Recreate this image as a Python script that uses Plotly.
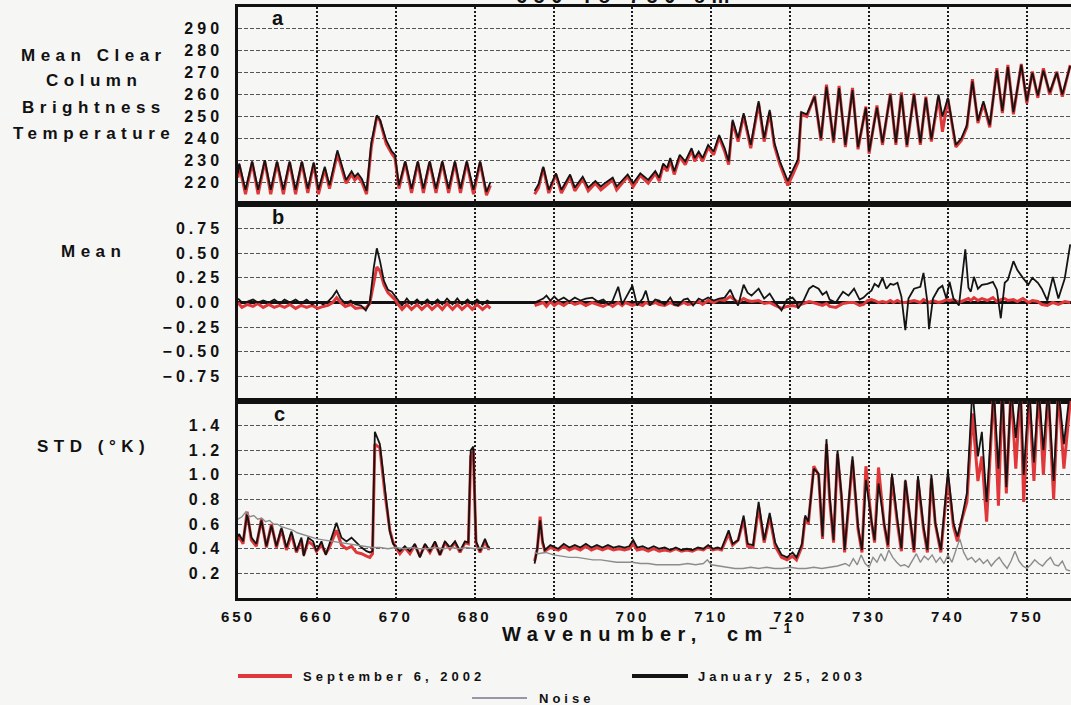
import plotly.graph_objects as go
from plotly.subplots import make_subplots

# ---------------- data ----------------
# Panel a: mean clear-column brightness temperature (K), two segments split by a channel gap
WN_A_L = [650.0, 650.15, 650.95, 651.8, 652.55, 653.4, 654.15, 654.95, 655.75, 656.55,
          657.3, 658.1, 658.85, 659.6, 660.2, 661.0, 661.6, 662.6, 663.7, 664.4,
          664.8, 665.2, 665.7, 666.3, 666.9, 667.6, 668.0, 668.8, 669.5, 669.9,
          670.4, 671.2, 672.0, 672.8, 673.5, 674.3, 675.1, 675.9, 676.7, 677.5,
          678.2, 679.0, 679.85, 680.7, 681.5, 682.0]
TB_JAN_A_L = [224, 228.5, 216.5, 229.5, 216.5, 230, 216.5, 229.5, 216.5, 229.5,
              216.5, 229.5, 217, 229, 216.5, 227, 218.5, 234.5, 221, 225,
              222.5, 224, 221.5, 216, 238, 250.5, 248.5, 239, 234, 232.5,
              218.5, 229.5, 217, 229.5, 217, 229.5, 217, 229.5, 217, 229.5,
              217, 229.5, 216.5, 229.5, 215.5, 220]
TB_SEP_A_L = [222, 228, 214.5, 229, 214.5, 229.5, 214.5, 229, 214.5, 229,
              214.5, 229, 215, 228.5, 214.5, 226, 217, 233, 219.5, 223.5,
              221, 222.5, 220, 214.5, 236, 250, 248, 237.5, 233, 231,
              217, 229, 215, 229, 215, 229, 215, 229, 215, 229,
              215, 229, 214.5, 229, 214, 218.5]

WN_A_R = [687.6, 688.1, 688.7, 689.4, 690.3, 691.0, 692.1, 692.7, 693.7, 694.4,
          695.3, 696.0, 696.5, 697.5, 698.0, 699.4, 700.1, 701.0, 702.0, 702.9,
          703.4, 703.9, 704.4, 704.8, 705.3, 706.0, 706.7, 707.5, 707.9, 708.4,
          708.9, 709.6, 710.3, 711.0, 711.7, 712.2, 712.7, 713.4, 714.1, 715.0,
          716.0, 716.7, 717.4, 718.0, 718.7, 719.7, 720.4, 721.0, 721.4, 722.1,
          723.1, 723.9, 724.6, 725.5, 726.2, 727.0, 727.9, 728.6, 729.6, 730.0,
          731.0, 731.7, 732.7, 733.4, 734.1, 734.8, 735.7, 736.5, 737.2, 737.9,
          738.8, 739.3, 740.0, 741.0, 741.7, 742.4, 743.1, 743.8, 744.5, 745.3,
          746.2, 746.9, 747.6, 748.3, 749.3, 750.0, 750.7, 751.4, 752.1, 752.9,
          753.8, 754.5, 755.5]
TB_JAN_A_R = [216, 219, 227, 216.5, 224, 216.5, 223.5, 217.5, 222.5, 217.5,
              220.5, 218, 219.5, 222, 218, 223.5, 219.5, 224, 221, 225,
              222, 228.5, 226.5, 231, 225, 232.5, 229.5, 235.5, 231, 234,
              231, 237, 234, 241.5, 235.5, 229.5, 248.5, 240, 251.5, 237,
              257, 240, 253, 238, 229.5, 220.5, 226, 230.5, 252, 251,
              259, 240, 263.5, 239, 263, 237, 262, 236, 254, 234,
              254, 238, 260, 238, 260, 237, 260, 238, 258.5, 239.5,
              260, 250, 258.5, 237, 240, 246, 266, 248, 257, 246,
              271, 252.5, 272.5, 252, 273.5, 257, 270, 259.5, 271, 261,
              270, 260, 273]
TB_SEP_A_R = [214.5, 217.5, 226.5, 215, 223.5, 215, 222.5, 216, 221.5, 216,
              219.5, 216.5, 218, 221, 216.5, 222.5, 218, 223, 219.5, 224,
              220.5, 227.5, 225, 230, 223.5, 231.5, 228, 234.5, 229.5, 233,
              229.5, 236, 232.5, 240.5, 234, 228, 247.5, 238.5, 250.5, 235.5,
              256, 238.5, 252, 236.5, 228, 218.5, 224, 229, 251, 250,
              259.5, 239, 264.5, 238, 264, 236, 263, 235, 254.5, 233,
              255, 237, 260.5, 237, 261, 236, 260.5, 237, 259, 238.5,
              259, 243, 258, 236, 239, 245, 267, 247, 256, 245,
              272, 251.5, 273.5, 251, 274, 256, 270.5, 258.5, 272, 260,
              270.5, 259, 273.5]

# Panel b: mean difference (K)
WN_B_L = [650.0, 650.5, 651.2, 651.9, 652.5, 653.2, 653.9, 654.6, 655.3, 655.9,
          656.6, 657.3, 658.0, 658.7, 659.4, 660.1, 660.8, 661.4, 662.0, 662.5,
          663.0, 663.6, 664.3, 664.9, 665.6, 666.2, 666.7, 667.2, 667.6, 668.0,
          668.5, 669.0, 669.5, 669.9, 670.3, 670.8, 671.4, 672.0, 672.7, 673.3,
          674.0, 674.6, 675.3, 675.9, 676.5, 677.2, 677.8, 678.4, 679.1, 679.7,
          680.3, 681.0, 681.6, 682.0]
MEAN_JAN_B_L = [0.04, 0.0, 0.01, 0.03, 0.0, 0.02, 0.0, 0.03, -0.01, 0.03,
                0.0, 0.03, -0.01, 0.03, -0.02, 0.01, -0.02, 0.01, 0.06, 0.12,
                0.04, -0.01, 0.02, -0.02, -0.03, -0.08, 0.0, 0.35, 0.55, 0.42,
                0.22, 0.13, 0.11, 0.07, 0.03, -0.03, 0.04, -0.02, 0.03, -0.02,
                0.03, -0.02, 0.03, -0.02, 0.04, -0.02, 0.04, -0.02, 0.03, -0.02,
                0.03, -0.02, 0.02, 0.0]
MEAN_SEP_B_L = [0.0, -0.05, -0.02, -0.04, -0.01, -0.05, -0.02, -0.05, -0.03, -0.05,
                -0.02, -0.06, -0.03, -0.05, -0.03, -0.06, -0.04, -0.03, 0.0, 0.05,
                0.0, -0.04, -0.02, -0.06, -0.05, -0.06, -0.01, 0.2, 0.36, 0.32,
                0.18, 0.1, 0.06, 0.03, -0.02, -0.07, -0.02, -0.07, -0.02, -0.07,
                -0.02, -0.07, -0.02, -0.07, -0.01, -0.07, -0.02, -0.07, -0.02, -0.07,
                -0.02, -0.07, -0.03, -0.06]

WN_B_R = [687.6, 688.7, 689.1, 689.6, 690.1, 690.6, 691.3, 692.0, 692.7, 693.4,
          694.1, 694.9, 695.6, 696.3, 697.0, 697.5, 698.2, 698.7, 699.1, 700.0,
          700.6, 701.3, 701.7, 702.2, 702.9, 703.4, 704.1, 704.8, 705.3, 705.8,
          706.5, 707.0, 707.7, 708.4, 708.9, 709.6, 710.3, 711.0, 711.7, 712.4,
          712.9, 713.4, 714.1, 714.6, 715.1, 716.0, 716.7, 717.4, 718.1, 718.9,
          719.6, 720.3, 720.8, 721.0, 721.7, 722.4, 722.9, 723.6, 724.1, 724.6,
          725.0, 725.8, 726.2, 726.7, 727.4, 728.1, 728.8, 729.3, 729.8, 730.3,
          730.7, 731.2, 731.7, 732.2, 732.7, 733.1, 733.6, 734.1, 734.6, 735.0,
          735.7, 736.5, 736.9, 737.4, 737.6, 738.1, 738.8, 739.3, 739.8, 740.2,
          740.7, 741.4, 742.2, 742.6, 742.9, 743.3, 743.8, 744.3, 745.0, 745.7,
          746.2, 746.7, 747.2, 747.6, 748.3, 748.8, 749.5, 750.2, 750.7, 751.4,
          751.9, 752.6, 753.3, 754.0, 754.8, 755.5]
MEAN_JAN_B_R = [0.0, 0.04, 0.07, 0.02, 0.06, 0.02, 0.05, 0.01, 0.05, 0.02,
                0.04, 0.05, 0.01, 0.03, -0.02, 0.02, 0.16, -0.02, 0.04, 0.17,
                -0.03, 0.04, 0.12, -0.03, 0.03, 0.02, -0.02, 0.05, -0.02, -0.03,
                0.03, 0.04, -0.03, 0.04, 0.02, 0.05, 0.02, 0.04, 0.05, 0.13,
                0.04, -0.03, 0.18, 0.1, 0.07, 0.14, 0.04, 0.09, 0.0, -0.08,
                0.03, 0.05, 0.0, -0.06, 0.02, 0.14, 0.17, 0.14, 0.08, 0.11,
                0.03, 0.0, 0.05, 0.11, 0.07, 0.14, 0.03, 0.05, 0.09, 0.12,
                0.19, 0.16, 0.25, 0.14, 0.19, 0.18, 0.2, 0.06, -0.28, 0.04,
                0.14, 0.16, 0.3, 0.0, -0.27, 0.04, 0.14, 0.17, 0.04, 0.21,
                0.04, -0.03, 0.54, 0.15, 0.11, 0.26, 0.14, 0.18, 0.19, 0.21,
                0.13, -0.16, 0.2, 0.23, 0.42, 0.33, 0.25, 0.18, 0.25, 0.2,
                0.14, 0.02, 0.26, 0.04, 0.24, 0.59]
MEAN_SEP_B_R = [-0.03, 0.0, -0.04, 0.01, -0.03, 0.0, -0.03, 0.01, -0.02, 0.0,
                -0.03, 0.0, -0.02, -0.04, -0.01, -0.04, 0.0, -0.03, 0.0, -0.03,
                -0.01, -0.03, 0.0, -0.02, 0.0, -0.02, -0.03, 0.0, -0.02, -0.03,
                0.0, -0.02, -0.01, 0.01, -0.02, 0.02, 0.0, 0.03, 0.02, 0.06,
                0.03, 0.0, 0.04, 0.02, 0.01, 0.02, -0.01, 0.0, -0.03, -0.06,
                -0.04, -0.03, -0.04, -0.03, -0.01, 0.01, 0.0, -0.02, -0.03, -0.01,
                -0.04, -0.05, -0.03, -0.01, 0.0, 0.0, -0.03, -0.02, 0.02, 0.03,
                0.02, 0.0, 0.01, 0.0, 0.02, 0.0, 0.02, 0.0, 0.0, 0.01,
                0.02, 0.0, 0.03, 0.01, 0.0, 0.02, 0.0, 0.01, 0.03, 0.02,
                0.03, 0.0, 0.03, 0.04, 0.02, 0.05, 0.02, 0.04, 0.02, 0.05,
                0.01, 0.03, 0.04, 0.02, 0.03, 0.01, 0.04, 0.0, 0.02, 0.01,
                -0.02, -0.03, 0.0, -0.02, 0.01, 0.0]

# Panel c: standard deviation (K)
WN_C_L = [650.0, 650.13, 650.64, 651.15, 651.7, 652.33, 652.97, 653.6, 654.24, 654.87,
          655.51, 656.14, 656.77, 657.41, 658.04, 658.34, 658.89, 659.52, 659.95, 660.58,
          661.13, 661.64, 662.48, 663.12, 663.75, 664.39, 665.02, 665.66, 666.29, 666.71,
          667.05, 667.35, 667.98, 668.62, 669.25, 669.67, 670.1, 670.52, 671.15, 671.79,
          672.42, 673.06, 673.7, 674.33, 674.97, 675.6, 676.24, 676.87, 677.51, 678.14,
          678.78, 679.2, 679.5, 679.83, 680.17, 680.68, 681.31, 681.74, 681.95]
STD_JAN_C_L = [0.5, 0.52, 0.46, 0.68, 0.49, 0.44, 0.63, 0.42, 0.59, 0.42,
               0.57, 0.41, 0.54, 0.38, 0.49, 0.34, 0.49, 0.46, 0.38, 0.46,
               0.35, 0.45, 0.61, 0.49, 0.46, 0.49, 0.45, 0.41, 0.38, 0.37,
               0.38, 1.35, 1.25, 0.87, 0.54, 0.44, 0.41, 0.38, 0.42, 0.38,
               0.44, 0.33, 0.44, 0.38, 0.46, 0.35, 0.46, 0.41, 0.46, 0.38,
               0.46, 0.45, 1.2, 1.23, 0.46, 0.38, 0.48, 0.41, 0.41]
STD_SEP_C_L = [0.47, 0.5, 0.44, 0.7, 0.47, 0.42, 0.64, 0.41, 0.6, 0.41,
               0.56, 0.39, 0.52, 0.37, 0.47, 0.35, 0.46, 0.43, 0.38, 0.43,
               0.36, 0.42, 0.55, 0.43, 0.4, 0.42, 0.37, 0.36, 0.34, 0.33,
               0.36, 1.25, 1.22, 0.85, 0.55, 0.45, 0.4, 0.36, 0.41, 0.36,
               0.43, 0.34, 0.43, 0.37, 0.45, 0.35, 0.45, 0.4, 0.45, 0.37,
               0.45, 0.44, 1.15, 1.2, 0.45, 0.37, 0.46, 0.4, 0.4]

WN_C_R = [687.6, 687.95, 688.3, 688.6, 688.9, 689.6, 690.6, 691.3, 692.0, 692.7,
          693.4, 694.1, 694.8, 695.5, 696.2, 696.9, 697.6, 698.3, 699.0, 699.6,
          700.1, 700.6, 701.3, 702.0, 702.7, 703.4, 704.1, 704.8, 705.5, 706.2,
          706.9, 707.6, 708.3, 709.0, 709.6, 710.2, 710.8, 711.3, 712.2, 712.7,
          713.4, 714.1, 714.6, 715.3, 716.0, 716.7, 717.4, 718.1, 718.9, 719.6,
          720.3, 720.8, 721.5, 721.9, 722.3, 723.0, 723.6, 724.1, 724.6, 725.0,
          725.5, 726.0, 726.5, 726.9, 727.9, 728.6, 729.1, 729.6, 730.3, 730.7,
          731.2, 731.9, 732.4, 732.9, 733.6, 734.1, 734.6, 735.3, 735.7, 736.2,
          736.9, 737.4, 737.9, 738.4, 739.1, 740.0, 740.7, 741.2, 741.7, 742.4,
          743.1, 743.8, 744.3, 744.9, 745.8, 746.4, 746.9, 747.4, 748.0, 748.6,
          749.2, 749.6, 750.3, 750.9, 751.5, 752.1, 752.7, 753.4, 754.0, 754.7,
          755.5]
STD_JAN_C_R = [0.28, 0.41, 0.63, 0.47, 0.39, 0.43, 0.40, 0.44, 0.41, 0.43,
               0.41, 0.44, 0.41, 0.43, 0.41, 0.43, 0.41, 0.42, 0.41, 0.42,
               0.47, 0.41, 0.42, 0.40, 0.42, 0.40, 0.41, 0.39, 0.41, 0.39,
               0.40, 0.39, 0.41, 0.40, 0.43, 0.40, 0.41, 0.40, 0.55, 0.44,
               0.47, 0.67, 0.44, 0.43, 0.78, 0.47, 0.69, 0.45, 0.35, 0.33,
               0.37, 0.33, 0.44, 0.67, 0.62, 1.05, 1.01, 0.50, 1.29, 0.83,
               0.47, 1.20, 0.84, 0.39, 1.15, 0.58, 0.39, 0.96, 0.63, 0.47,
               0.93, 0.61, 0.43, 1.01, 0.63, 0.40, 0.96, 0.58, 0.39, 0.99,
               0.58, 0.39, 1.00, 0.61, 0.39, 1.03, 0.61, 0.50, 0.63, 0.85,
               1.70, 1.15, 1.35, 0.78, 1.70, 1.05, 1.70, 0.90, 1.70, 1.30,
               1.70, 1.00, 1.70, 1.10, 1.70, 1.20, 1.70, 0.95, 1.70, 1.25,
               1.70]
STD_SEP_C_R = [0.30, 0.40, 0.66, 0.45, 0.38, 0.41, 0.39, 0.42, 0.39, 0.41,
               0.39, 0.42, 0.39, 0.41, 0.39, 0.41, 0.39, 0.40, 0.39, 0.40,
               0.44, 0.39, 0.40, 0.38, 0.40, 0.38, 0.39, 0.38, 0.40, 0.38,
               0.39, 0.38, 0.40, 0.39, 0.42, 0.39, 0.40, 0.39, 0.52, 0.43,
               0.47, 0.64, 0.42, 0.41, 0.74, 0.45, 0.66, 0.42, 0.33, 0.31,
               0.34, 0.31, 0.42, 0.65, 0.60, 1.07, 1.00, 0.48, 1.25, 0.80,
               0.45, 1.17, 0.82, 0.37, 1.12, 0.56, 0.37, 1.07, 0.62, 0.45,
               1.06, 0.60, 0.41, 0.98, 0.60, 0.38, 0.95, 0.57, 0.37, 0.96,
               0.56, 0.37, 0.97, 0.60, 0.37, 0.98, 0.58, 0.46, 0.62, 0.78,
               1.50, 0.95, 1.15, 0.62, 1.70, 0.75, 1.70, 0.85, 1.70, 1.05,
               1.70, 0.78, 1.65, 0.95, 1.70, 1.00, 1.70, 0.80, 1.70, 1.05,
               1.60]

NOISE_WN_L = [650.0, 650.5, 651.0, 651.5, 652.0, 652.5, 653.0, 653.5, 654.0, 654.5,
              655.0, 655.5, 656.0, 656.5, 657.0, 657.5, 658.0, 658.5, 659.0, 659.5,
              660.0, 661.0, 662.0, 663.0, 664.0, 665.0, 666.0, 667.0, 668.0, 669.0,
              670.0, 671.0, 672.0, 673.0, 674.0, 675.0, 676.0, 677.0, 678.0, 679.0,
              680.0, 681.0, 681.9]
NOISE_L = [0.64, 0.66, 0.7, 0.66, 0.67, 0.64, 0.65, 0.62, 0.63, 0.6,
           0.6, 0.58, 0.57, 0.56, 0.55, 0.53, 0.52, 0.51, 0.5, 0.49,
           0.48, 0.47, 0.46, 0.45, 0.44, 0.43, 0.42, 0.41, 0.41, 0.4,
           0.41, 0.4, 0.41, 0.4, 0.4, 0.41, 0.4, 0.41, 0.4, 0.41,
           0.4, 0.41, 0.4]
NOISE_WN_R = [687.6, 688.0, 689.0, 690.0, 691.0, 692.0, 693.0, 694.0, 695.0, 696.0,
              697.0, 698.0, 699.0, 700.0, 701.0, 702.0, 703.0, 704.0, 705.0, 706.0,
              707.0, 708.0, 709.0, 709.5, 710.0, 711.0, 712.0, 713.0, 714.0, 715.0,
              716.0, 717.0, 718.0, 719.0, 720.0, 721.0, 722.0, 723.0, 724.0, 725.0,
              726.0, 727.0, 727.5, 728.0, 728.5, 729.0, 729.5, 730.0, 730.5, 731.0,
              731.5, 732.0, 732.5, 733.0, 733.5, 734.0, 734.5, 735.0, 735.5, 736.0,
              736.5, 737.0, 737.5, 738.0, 738.5, 739.0, 739.5, 740.0, 740.5, 741.0,
              741.5, 742.0, 742.5, 743.0, 743.5, 744.0, 744.5, 745.0, 745.5, 746.0,
              746.5, 747.0, 747.5, 748.0, 748.5, 749.0, 749.5, 750.0, 750.5, 751.0,
              751.5, 752.0, 752.5, 753.0, 753.5, 754.0, 754.5, 755.0, 755.5]
NOISE_R = [0.37, 0.36, 0.37, 0.35, 0.34, 0.33, 0.33, 0.32, 0.31, 0.31,
           0.30, 0.29, 0.29, 0.29, 0.28, 0.28, 0.27, 0.27, 0.27, 0.27,
           0.28, 0.27, 0.28, 0.31, 0.27, 0.26, 0.25, 0.24, 0.24, 0.25,
           0.24, 0.25, 0.24, 0.24, 0.25, 0.24, 0.24, 0.25, 0.24, 0.25,
           0.26, 0.28, 0.26, 0.32, 0.27, 0.35, 0.28, 0.25, 0.33, 0.29,
           0.36, 0.30, 0.39, 0.33, 0.29, 0.26, 0.27, 0.25, 0.30, 0.36,
           0.29, 0.34, 0.31, 0.35, 0.29, 0.33, 0.28, 0.35, 0.29, 0.38,
           0.48, 0.37, 0.31, 0.33, 0.29, 0.32, 0.28, 0.31, 0.26, 0.30,
           0.33, 0.28, 0.24, 0.30, 0.38, 0.30, 0.26, 0.24, 0.27, 0.31,
           0.28, 0.26, 0.30, 0.33, 0.27, 0.26, 0.30, 0.23, 0.22]

TICKS_A = [220, 230, 240, 250, 260, 270, 280, 290]
TICKS_B = [-0.75, -0.5, -0.25, 0.0, 0.25, 0.5, 0.75]
TICKS_C = [0.2, 0.4, 0.6, 0.8, 1.0, 1.2, 1.4]
TICKS_X = [650, 660, 670, 680, 690, 700, 710, 720, 730, 740, 750]

for xs, ys in [(WN_A_L, TB_JAN_A_L), (WN_A_L, TB_SEP_A_L), (WN_A_R, TB_JAN_A_R),
               (WN_A_R, TB_SEP_A_R), (WN_B_L, MEAN_JAN_B_L), (WN_B_L, MEAN_SEP_B_L),
               (WN_B_R, MEAN_JAN_B_R), (WN_B_R, MEAN_SEP_B_R), (WN_C_L, STD_JAN_C_L),
               (WN_C_L, STD_SEP_C_L), (WN_C_R, STD_JAN_C_R), (WN_C_R, STD_SEP_C_R),
               (NOISE_WN_L, NOISE_L), (NOISE_WN_R, NOISE_R)]:
    assert len(xs) == len(ys), (len(xs), len(ys))

# ---------------- styling ----------------
W, H = 1071, 705
L, R, T, B = 238, 0, 7, 107
BG = "#f6f6f4"
RED = "#e0383a"
BLACK = "#141414"
GRAY = "#8c8c8c"
FONT = "Liberation Sans"


def spaced(text, gap):
    return f'<span style="letter-spacing:{gap}px">{text}</span>'


def join(a, b):
    return a + [None] + b


def px_x(px):
    return (px - L) / (W - L - R)


def px_y(py):
    return (H - B - py) / (H - T - B)


fig = make_subplots(rows=3, cols=1, shared_xaxes=True, vertical_spacing=0)

panels = [
    (1, WN_A_L, WN_A_R, TB_SEP_A_L, TB_SEP_A_R, TB_JAN_A_L, TB_JAN_A_R),
    (2, WN_B_L, WN_B_R, MEAN_SEP_B_L, MEAN_SEP_B_R, MEAN_JAN_B_L, MEAN_JAN_B_R),
    (3, WN_C_L, WN_C_R, STD_SEP_C_L, STD_SEP_C_R, STD_JAN_C_L, STD_JAN_C_R),
]
for row, xl, xr, sl, sr, jl, jr in panels:
    fig.add_trace(go.Scatter(x=join(xl, xr), y=join(sl, sr), mode="lines",
                             line=dict(color=RED, width=3), name="September 6, 2002"),
                  row=row, col=1)
    fig.add_trace(go.Scatter(x=join(xl, xr), y=join(jl, jr), mode="lines",
                             line=dict(color=BLACK, width=1.8), name="January 25, 2003"),
                  row=row, col=1)
fig.add_trace(go.Scatter(x=join(NOISE_WN_L, NOISE_WN_R), y=join(NOISE_L, NOISE_R),
                         mode="lines", line=dict(color=GRAY, width=1.4), name="Noise"),
              row=3, col=1)

tick_font = dict(family=FONT, size=16, color="#111", weight="bold")

for i in (1, 2, 3):
    fig.update_xaxes(row=i, col=1, range=[650, 755.6], showline=True, linewidth=3,
                     linecolor="#111", mirror=True, showgrid=True, gridcolor="#1a1a1a",
                     gridwidth=2, griddash="2px,2px", tickvals=TICKS_X, ticks="",
                     zeroline=False, showticklabels=(i == 3),
                     ticktext=[spaced(str(v), 3) for v in TICKS_X],
                     tickfont=dict(family=FONT, size=15, color="#111", weight="bold"),
                     ticklabelstandoff=3)

ydefs = {
    1: ([210, 300], TICKS_A, [str(v) for v in TICKS_A]),
    2: ([-1.0, 1.0], TICKS_B, [("\u2212" if v < 0 else "") + f"{abs(v):.2f}" for v in TICKS_B]),
    3: ([0.0, 1.6], TICKS_C, [f"{v:.1f}" for v in TICKS_C]),
}
for i, (rng, vals, labels) in ydefs.items():
    fig.update_yaxes(row=i, col=1, range=rng, tickvals=vals,
                     ticktext=[spaced(s, 4) for s in labels], ticks="",
                     showline=True, linewidth=2.5, linecolor="#111", mirror=False,
                     showgrid=True, gridcolor="#555", gridwidth=1, griddash="4px,2px",
                     zeroline=(i == 2), zerolinecolor="#111", zerolinewidth=3,
                     tickfont=tick_font, ticklabelstandoff=9)

ann = []


def label(text, cx, cy, size, gap, xanchor="center", yanchor="middle"):
    ann.append(dict(text=spaced(text, gap), x=px_x(cx), y=px_y(cy), xref="paper", yref="paper",
                    showarrow=False, xanchor=xanchor, yanchor=yanchor,
                    font=dict(family=FONT, size=size, color="#111", weight="bold")))


# left-hand axis titles
for txt, cy in [("Mean Clear", 55), ("Column", 81), ("Brightness", 107), ("Temperature", 133)]:
    label(txt, 94, cy, 17, 5.5)
label("Mean", 93, 252, 17, 5.5)
label("STD (\u00b0K)", 93, 447, 17, 5.5)

# panel letters
label("a", 278, 18, 20, 0)
label("b", 278, 217, 20, 0)
label("c", 279, 414, 20, 0)

# x-axis title
label("Wavenumber,  cm<sup>\u22121</sup>", 650, 632, 20, 6.5)

# top title (runs off the top edge of the page)
label("650 To 750 cm<sup>\u22121</sup>", 640, -5, 20, 6.5)

# legend entries
label("September 6, 2002", 301, 676, 13, 4, xanchor="left")
label("January 25, 2003", 696, 676, 13, 4, xanchor="left")
label("Noise", 537, 698, 13, 4, xanchor="left")

shapes = []
for x0, x1, y, col, w in [(238, 292, 676, RED, 4), (632, 688, 676, BLACK, 4),
                          (472, 527, 698, "#9a96a6", 2)]:
    shapes.append(dict(type="line", xref="paper", yref="paper", x0=px_x(x0), x1=px_x(x1),
                       y0=px_y(y), y1=px_y(y), line=dict(color=col, width=w)))

fig.update_layout(width=W, height=H, margin=dict(l=L, r=R, t=T, b=B, pad=0),
                  paper_bgcolor=BG, plot_bgcolor=BG, showlegend=False,
                  annotations=ann, shapes=shapes,
                  font=dict(family=FONT, color="#111"))

fig.write_html("out.html")
